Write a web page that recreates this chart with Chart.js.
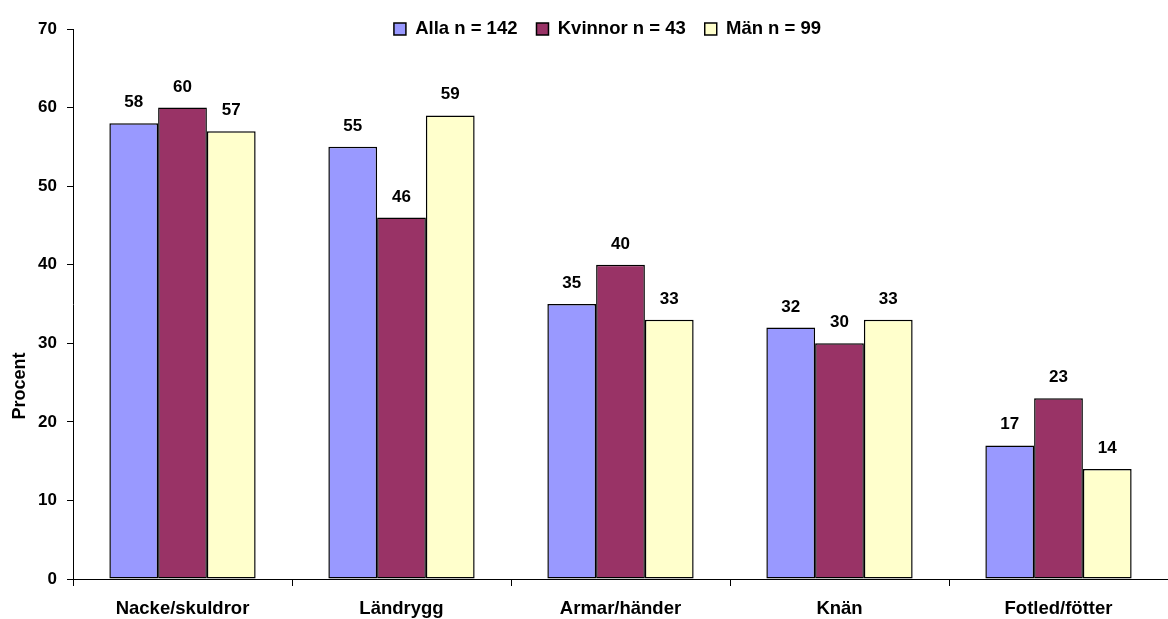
<!DOCTYPE html>
<html>
<head>
<meta charset="utf-8">
<script src="https://cdn.jsdelivr.net/npm/chart.js@4/dist/chart.umd.min.js"></script>
<style>
html,body{margin:0;padding:0;background:#fff;}
#wrap{width:1168px;height:619px;position:relative;}
</style>
</head>
<body>
<div id="wrap"><canvas id="c" width="1168" height="619"></canvas></div>
<script>
const categories = ["Nacke/skuldror", "Ländrygg", "Armar/händer", "Knän", "Fotled/fötter"];
const seriesNames = ["Alla n = 142", "Kvinnor n = 43", "Män n = 99"];
const alla = [58, 55, 35, 32, 17];
const kvinnor = [60, 46, 40, 30, 23];
const man = [57, 59, 33, 33, 14];
const yTicks = [0, 10, 20, 30, 40, 50, 60, 70];
const yTitle = "Procent";

const FONT = "'Liberation Sans', Arial, sans-serif";

const labelPlugin = {
  id: 'valueLabels',
  beforeLayout(chart) {
    const lg = chart.legend;
    if (lg && !lg._patched) {
      const f = lg.fit.bind(lg);
      lg.fit = function () { f(); this._realHeight = this.height; this.height = 0; };
      lg._patched = true;
    }
  },
  afterLayout(chart) {
    const lg = chart.legend;
    if (lg) {
      const p = lg.options.labels.padding;
      const fs = lg.options.labels.font.size;
      const desiredTop = 29 - p - fs / 2;
      const dy = lg.top - desiredTop;
      lg.top -= dy;
      lg.bottom = lg.top + (lg._realHeight || 0);
      const dx = 21;
      lg.left += dx; lg.right += dx;
    }
  },
  afterDatasetsDraw(chart) {
    const ctx = chart.ctx;
    ctx.save();
    ctx.font = "bold 17px " + FONT;
    ctx.fillStyle = '#000';
    ctx.textAlign = 'center';
    ctx.textBaseline = 'alphabetic';
    chart.data.datasets.forEach((ds, i) => {
      const meta = chart.getDatasetMeta(i);
      meta.data.forEach((el, j) => {
        ctx.fillText(String(ds.data[j]), el.x, el.y - 16);
      });
    });
    // y-axis title
    ctx.translate(20, 386);
    ctx.rotate(-Math.PI / 2);
    ctx.font = "bold 18px " + FONT;
    ctx.textBaseline = 'middle';
    ctx.fillText(yTitle, 0, 0);
    ctx.restore();
  }
};

new Chart(document.getElementById('c'), {
  type: 'bar',
  data: {
    labels: categories,
    datasets: [
      { label: seriesNames[0], data: alla, backgroundColor: '#9999FF' },
      { label: seriesNames[1], data: kvinnor, backgroundColor: '#993366' },
      { label: seriesNames[2], data: man, backgroundColor: '#FFFFCC' }
    ].map(d => Object.assign(d, { borderColor: '#000', borderWidth: 1.5, borderSkipped: false, categoryPercentage: 0.668, barPercentage: 1.0 }))
  },
  options: {
    responsive: false,
    animation: false,
    devicePixelRatio: 1,
    layout: { padding: { top: 29, right: -5, left: 0, bottom: 0 } },
    plugins: {
      legend: {
        position: 'top',
        align: 'center',
        labels: {
          boxWidth: 12, boxHeight: 12, padding: 19,
          color: '#000',
          font: { family: FONT, size: 18.5, weight: 'bold' }
        }
      },
      tooltip: { enabled: false },
      title: { display: false }
    },
    scales: {
      x: {
        grid: { display: true, drawOnChartArea: false, offset: true, tickLength: 7, color: '#000', tickColor: '#000' },
        border: { display: true, color: '#000', width: 1 },
        ticks: { color: '#000', font: { family: FONT, size: 18.5, weight: 'bold' }, padding: 12, maxRotation: 0 },
        afterFit(s) { s.height = 40; }
      },
      y: {
        min: 0, max: 70,
        afterBuildTicks(s) { s.ticks = yTicks.map(v => ({ value: v })); },
        grid: { display: true, drawOnChartArea: false, tickLength: 6, color: '#000', tickColor: '#000' },
        border: { display: true, color: '#000', width: 1 },
        ticks: { color: '#000', font: { family: FONT, size: 17, weight: 'bold' }, padding: 10 },
        afterFit(s) { s.width = 73; }
      }
    }
  },
  plugins: [labelPlugin]
});
</script>
</body>
</html>
